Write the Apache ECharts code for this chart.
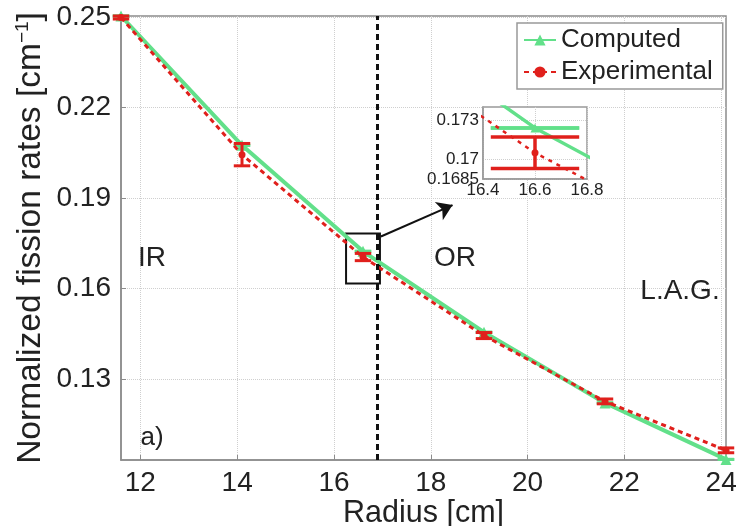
<!DOCTYPE html>
<html><head><meta charset="utf-8">
<script src="https://cdn.jsdelivr.net/npm/echarts@6/dist/echarts.min.js"></script>
<style>html,body{margin:0;padding:0;background:#fff}#c{width:741px;height:526px}</style>
</head><body><div id="c"></div>
<script>
// ---- data ----
const radius = [11.6, 14.1, 16.6, 19.1, 21.6, 24.1];
const computed = [0.2503, 0.2075, 0.1724, 0.1456, 0.1222, 0.1035];
const experimental = [0.2498, 0.2044, 0.1705, 0.1445, 0.1227, 0.1065];
const expError = [0.0005, 0.0037, 0.0012, 0.0010, 0.0008, 0.0008];
const compError = [0, 0, 0, 0, 0, 0];
const xTicks = [12, 14, 16, 18, 20, 22, 24];
const yTicks = [0.13, 0.16, 0.19, 0.22, 0.25];
const insetXTicks = [16.4, 16.6, 16.8];
const insetYTicks = [0.1685, 0.17, 0.173];
const boundaryRadius = 16.9;
const zoomBox = [[16.25, 0.1783], [16.95, 0.1617]];
const arrowLine = [[16.97, 0.1773], [18.45, 0.1877]];
const seriesNames = ['Computed', 'Experimental'];
const regionLabels = ['IR', 'OR', 'L.A.G.', 'a)'];

// ---- styling ----
const FONT = 'Liberation Sans, Arial, sans-serif';
const GREEN = '#62e08a';
const RED = '#e0201c';
const TXT = '#222';
const FRAME = '#8c8c8c';
const GRIDC = '#cfcfcf';

const compPts = radius.map((x, i) => [x, computed[i]]);
const expPts = radius.map((x, i) => [x, experimental[i]]);
const expErr = radius.map((x, i) => [x, experimental[i], experimental[i] - expError[i], experimental[i] + expError[i]]);
const compErr = radius.map((x, i) => [x, computed[i], computed[i] - compError[i], computed[i] + compError[i]]);

function errRender(color, width, capHalf) {
  return function (params, api) {
    const x = api.value(0), lo = api.value(2), hi = api.value(3);
    const cs = params.coordSys;
    const pT = api.coord([x, hi]), pB = api.coord([x, lo]);
    if (pT[0] < cs.x - 0.5 || pT[0] > cs.x + cs.width + 0.5) return;
    const hw = api.size([capHalf, 0])[0];
    const clampY = v => Math.max(cs.y, Math.min(cs.y + cs.height, v));
    const st = { stroke: color, lineWidth: width };
    const children = [];
    if (pB[1] - pT[1] > 0.5) {
      children.push({ type: 'line', shape: { x1: pT[0], y1: clampY(pT[1]), x2: pT[0], y2: clampY(pB[1]) }, style: st });
    }
    [pT[1], pB[1]].forEach(yy => {
      if (yy >= cs.y - 0.5 && yy <= cs.y + cs.height + 0.5) {
        children.push({ type: 'line', shape: { x1: pT[0] - hw, y1: yy, x2: pT[0] + hw, y2: yy }, style: st });
      }
    });
    return { type: 'group', children };
  };
}

function axisBase(extra) {
  return Object.assign({
    type: 'value',
    nameMoveOverlap: false,
    axisLine: { show: true, onZero: false, lineStyle: { color: FRAME, width: 1.5 } },
    axisTick: { show: true, inside: true, length: 5, lineStyle: { color: FRAME } },
    splitLine: { show: true, lineStyle: { color: GRIDC, type: 'dotted', width: 1 } },
    axisLabel: { color: TXT, fontFamily: FONT }
  }, extra);
}

const chart = echarts.init(document.getElementById('c'), null, { renderer: 'canvas' });
chart.setOption({
  animation: false,
  backgroundColor: '#fff',
  textStyle: { fontFamily: FONT },
  grid: [
    { left: 121, top: 16, right: 15, bottom: 66, outerBoundsMode: 'none', containLabel: false, show: true, borderColor: FRAME, borderWidth: 1.5, backgroundColor: 'rgba(0,0,0,0)' },
    { left: 483, top: 107, width: 104, height: 72, outerBoundsMode: 'none', containLabel: false, show: true, backgroundColor: '#fff', borderColor: '#999', borderWidth: 1.5, z: 10 }
  ],
  legend: {
    data: seriesNames, orient: 'vertical', left: 517, top: 23,
    padding: [4, 10, 4, 6], itemGap: 6, itemWidth: 32, itemHeight: 14,
    backgroundColor: '#fff', borderColor: '#999', borderWidth: 1.5,
    textStyle: { fontSize: 26, color: TXT, fontFamily: FONT }, z: 20
  },
  xAxis: [
    axisBase({
      gridIndex: 0, min: 11.6, max: 24.1,
      axisTick: { show: true, inside: true, length: 5, customValues: xTicks, lineStyle: { color: FRAME } },
      axisLabel: { customValues: xTicks, fontSize: 28, margin: 9, color: TXT, fontFamily: FONT },
      name: 'Radius [cm]', nameLocation: 'middle', nameGap: 38,
      nameTextStyle: { fontSize: 30.5, color: TXT, fontFamily: FONT }
    }),
    axisBase({
      gridIndex: 1, min: 16.4, max: 16.8, z: 11,
      axisLine: { show: true, onZero: false, lineStyle: { color: '#999', width: 1.5 } },
      axisTick: { show: false, customValues: insetXTicks },
      axisLabel: { customValues: insetXTicks, fontSize: 17, margin: 3, color: TXT, fontFamily: FONT }
    })
  ],
  yAxis: [
    axisBase({
      gridIndex: 0, min: 0.1033, max: 0.2503,
      axisTick: { show: true, inside: true, length: 5, customValues: yTicks, lineStyle: { color: FRAME } },
      axisLabel: { customValues: yTicks, fontSize: 28, margin: 10, color: TXT, fontFamily: FONT },
      name: '{t|Normalized fission rates [cm}{s|−1}{t|]}', nameLocation: 'middle', nameGap: 73,
      nameTextStyle: {
        color: TXT, fontFamily: FONT,
        rich: { t: { fontSize: 33.5, color: TXT, fontFamily: FONT }, s: { fontSize: 19, color: TXT, fontFamily: FONT, padding: [0, 0, 16, 0] } }
      }
    }),
    axisBase({
      gridIndex: 1, min: 0.1685, max: 0.174, z: 11,
      axisLine: { show: true, onZero: false, lineStyle: { color: '#999', width: 1.5 } },
      axisTick: { show: false, customValues: insetYTicks },
      axisLabel: { customValues: insetYTicks, fontSize: 17, margin: 4, color: TXT, fontFamily: FONT }
    })
  ],
  graphic: [
    { type: 'text', x: 152, y: 258, z: 30, style: { text: regionLabels[0], font: '28px ' + FONT, fill: TXT, align: 'center', verticalAlign: 'middle' } },
    { type: 'text', x: 455, y: 258, z: 30, style: { text: regionLabels[1], font: '28px ' + FONT, fill: TXT, align: 'center', verticalAlign: 'middle' } },
    { type: 'text', x: 680, y: 291, z: 30, style: { text: regionLabels[2], font: '28px ' + FONT, fill: TXT, align: 'center', verticalAlign: 'middle' } },
    { type: 'text', x: 152, y: 438, z: 30, style: { text: regionLabels[3], font: '26px ' + FONT, fill: TXT, align: 'center', verticalAlign: 'middle' } }
  ],
  series: [
    {
      name: seriesNames[0], type: 'line', xAxisIndex: 0, yAxisIndex: 0, data: compPts,
      color: GREEN, lineStyle: { color: GREEN, width: 4 }, itemStyle: { color: GREEN },
      symbol: 'triangle', symbolSize: 11, showSymbol: true, z: 3
    },
    {
      type: 'custom', xAxisIndex: 0, yAxisIndex: 0, data: compErr, z: 3,
      renderItem: errRender(GREEN, 3, 0.17), silent: true
    },
    {
      name: seriesNames[1], type: 'line', xAxisIndex: 0, yAxisIndex: 0, data: expPts,
      color: RED, lineStyle: { color: RED, width: 3, type: [5, 4] }, itemStyle: { color: RED },
      symbol: 'circle', symbolSize: 7, showSymbol: true, z: 4,
      markLine: {
        silent: true, symbol: 'none', label: { show: false },
        data: [
          { xAxis: boundaryRadius, lineStyle: { color: '#111', width: 3, type: [6, 4] } },
          [
            { coord: arrowLine[0], symbol: 'none', lineStyle: { color: '#111', width: 2, type: 'solid' } },
            { coord: arrowLine[1], symbol: 'arrow', symbolSize: 15 }
          ]
        ]
      },
      markArea: {
        silent: true,
        itemStyle: { color: 'rgba(0,0,0,0)', borderColor: '#111', borderWidth: 2 },
        data: [[{ coord: zoomBox[0] }, { coord: zoomBox[1] }]]
      }
    },
    {
      type: 'custom', xAxisIndex: 0, yAxisIndex: 0, data: expErr, z: 5,
      renderItem: errRender(RED, 3, 0.17), silent: true
    },
    // inset
    {
      name: seriesNames[0], type: 'line', xAxisIndex: 1, yAxisIndex: 1, data: compPts,
      color: GREEN, lineStyle: { color: GREEN, width: 3.5 }, itemStyle: { color: GREEN },
      symbol: 'triangle', symbolSize: 9, z: 12, clip: true
    },
    {
      type: 'custom', xAxisIndex: 1, yAxisIndex: 1, data: compErr, z: 12,
      renderItem: errRender(GREEN, 3.5, 0.17), silent: true
    },
    {
      name: seriesNames[1], type: 'line', xAxisIndex: 1, yAxisIndex: 1, data: expPts,
      color: RED, lineStyle: { color: RED, width: 2.5, type: [4, 5] }, itemStyle: { color: RED },
      symbol: 'circle', symbolSize: 7, z: 13, clip: true
    },
    {
      type: 'custom', xAxisIndex: 1, yAxisIndex: 1, data: expErr, z: 13,
      renderItem: errRender(RED, 3.5, 0.17), silent: true
    }
  ]
});
</script>
</body></html>
